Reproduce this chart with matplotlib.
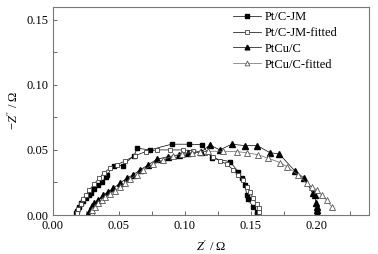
import matplotlib
matplotlib.use('Agg')
import matplotlib.pyplot as plt
from matplotlib.ticker import MultipleLocator

plt.rcParams['font.family'] = ['Liberation Serif', 'DejaVu Serif']
plt.rcParams['mathtext.fontset'] = 'custom'
plt.rcParams['mathtext.rm'] = 'Liberation Serif'
plt.rcParams['mathtext.it'] = 'Liberation Serif:italic'

# Pt/C-JM measured
ptc_x = [0.0175, 0.0185, 0.020, 0.0215, 0.023, 0.025, 0.027, 0.029, 0.0313, 0.0344,
         0.0374, 0.0402, 0.0412, 0.046, 0.0529, 0.0615, 0.064, 0.0736, 0.090, 0.1034,
         0.1128, 0.121, 0.1343, 0.1406, 0.1436, 0.1457, 0.147, 0.148, 0.152, 0.1545, 0.155]
ptc_y = [0.0013, 0.003, 0.006, 0.009, 0.011, 0.013, 0.015, 0.017, 0.0198, 0.0231,
         0.0256, 0.029, 0.0308, 0.038, 0.038, 0.0456, 0.0513, 0.050, 0.0544, 0.0544,
         0.054, 0.0436, 0.041, 0.0333, 0.0282, 0.023, 0.0154, 0.012, 0.006, 0.0025, 0.001]

# Pt/C-JM fitted
ptcf_x = [0.0180, 0.0192, 0.0210, 0.0230, 0.0250, 0.0276, 0.0311, 0.0349, 0.0389, 0.0432,
          0.0483, 0.0546, 0.0622, 0.0706, 0.0787, 0.0888, 0.0989, 0.1065, 0.1153, 0.1216,
          0.1267, 0.1318, 0.1368, 0.1406, 0.1439, 0.1470, 0.1495, 0.1520, 0.1545, 0.1561, 0.1566]
ptcf_y = [0.0013, 0.0044, 0.0085, 0.0121, 0.0154, 0.0192, 0.0236, 0.0282, 0.0326, 0.0359,
          0.0385, 0.0415, 0.0456, 0.0487, 0.050, 0.050, 0.050, 0.0495, 0.048, 0.0449,
          0.0415, 0.0392, 0.0346, 0.0308, 0.0269, 0.0218, 0.0179, 0.0128, 0.0085, 0.0051, 0.0026]

# PtCu/C measured
ptcu_x = [0.0268, 0.028, 0.0293, 0.0313, 0.0344, 0.0382, 0.042, 0.0458, 0.0508, 0.0559,
          0.061, 0.066, 0.0723, 0.0787, 0.0875, 0.0958, 0.1027, 0.1123, 0.119, 0.1267,
          0.1356, 0.1457, 0.155, 0.1646, 0.1717, 0.1836, 0.1907, 0.197, 0.1988, 0.1995,
          0.2, 0.2, 0.2005]
ptcu_y = [0.0005, 0.0038, 0.0069, 0.009, 0.0115, 0.0154, 0.018, 0.0205, 0.0244, 0.0282,
          0.031, 0.0346, 0.0385, 0.0428, 0.0449, 0.046, 0.0474, 0.0482, 0.0538, 0.050,
          0.0544, 0.0533, 0.0533, 0.0479, 0.0469, 0.0338, 0.0282, 0.0167, 0.0154, 0.009,
          0.0064, 0.0038, 0.0015]

# PtCu/C fitted
ptcuf_x = [0.0293, 0.030, 0.0319, 0.0344, 0.037, 0.0395, 0.0432, 0.047, 0.0508, 0.0546,
           0.0584, 0.0635, 0.0685, 0.0761, 0.0837, 0.0913, 0.0976, 0.1052, 0.1115, 0.1178,
           0.1292, 0.1394, 0.147, 0.1558, 0.1634, 0.1722, 0.1773, 0.1861, 0.1925, 0.1963,
           0.2, 0.2038, 0.2076, 0.2114]
ptcuf_y = [0.0013, 0.0038, 0.0064, 0.009, 0.0115, 0.0136, 0.0162, 0.0187, 0.0218, 0.0244,
           0.0277, 0.031, 0.0345, 0.039, 0.0425, 0.0455, 0.047, 0.048, 0.0485, 0.049,
           0.049, 0.0487, 0.0479, 0.0462, 0.0436, 0.0403, 0.0372, 0.0308, 0.0244, 0.0218,
           0.0192, 0.0154, 0.0115, 0.0064]

fig = plt.figure(figsize=(3.78, 2.54), dpi=100)
ax = fig.add_axes([0.140, 0.1535, 0.837, 0.820])

ms = 3.4
lw = 0.5
ax.plot(ptc_x, ptc_y, '-s', color='black', lw=lw, ms=ms, mfc='black', mec='black',
        label='Pt/C-JM')
ax.plot(ptcf_x, ptcf_y, '-s', color='black', lw=lw, ms=ms, mfc='white', mec='#444444',
        mew=0.6, label='Pt/C-JM-fitted')
ax.plot(ptcu_x, ptcu_y, '-^', color='black', lw=lw, ms=ms + 0.4, mfc='black', mec='black',
        label='PtCu/C')
ax.plot(ptcuf_x, ptcuf_y, '-^', color='#666666', lw=lw, ms=ms + 0.4, mfc='white',
        mec='#555555', mew=0.6, label='PtCu/C-fitted')

ax.set_xlim(0, 0.24)
ax.set_ylim(0, 0.16)
ax.xaxis.set_major_locator(MultipleLocator(0.05))
ax.xaxis.set_minor_locator(MultipleLocator(0.025))
ax.yaxis.set_major_locator(MultipleLocator(0.05))
ax.yaxis.set_minor_locator(MultipleLocator(0.025))
ax.xaxis.set_major_formatter(lambda v, p: f'{v:.2f}')
ax.yaxis.set_major_formatter(lambda v, p: f'{v:.2f}')
ax.tick_params(which='both', direction='in', labelsize=9, colors='#555555',
               labelcolor='black', width=0.6, length=3)
for s in ax.spines.values():
    s.set_color('#777777')
    s.set_linewidth(0.8)

ax.set_xlabel(r"$Z'$ / $\Omega$", fontsize=9, labelpad=5)
ax.set_ylabel(r"$-Z''$ / $\Omega$", fontsize=9, labelpad=4)

ax.legend(loc='upper right', bbox_to_anchor=(0.927, 1.02), frameon=False, fontsize=9,
          handlelength=2.2, handletextpad=0.3, labelspacing=0.3, borderaxespad=0.3,
          markerscale=0.9)

fig.savefig('out.png', dpi=100)
